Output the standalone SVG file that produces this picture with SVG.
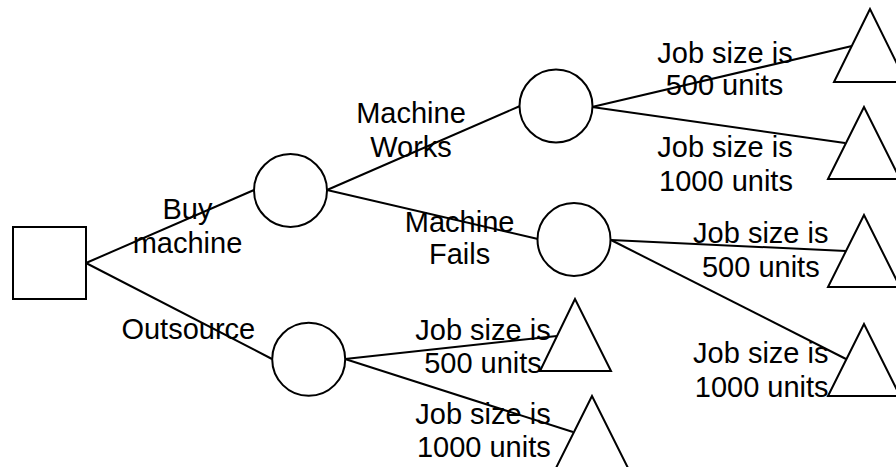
<svg xmlns="http://www.w3.org/2000/svg" width="896" height="467" viewBox="0 0 896 467">
<style>
.s{fill:#fff;stroke:#000;stroke-width:2}
.c line{stroke:#000;stroke-width:2}
text{font-family:"Liberation Sans",Arial,sans-serif;font-size:29px;fill:#000;text-anchor:middle}
</style>
<rect width="896" height="467" fill="#fff"/>
<g id="connectors" class="c">
<line x1="86" y1="263" x2="254" y2="190"/>
<line x1="86" y1="263" x2="272" y2="359"/>
<line x1="327" y1="190" x2="520" y2="106"/>
<line x1="327" y1="190" x2="538" y2="239"/>
<line x1="592" y1="107" x2="852" y2="46"/>
<line x1="592" y1="107" x2="845" y2="143"/>
<line x1="611" y1="240" x2="846" y2="251"/>
<line x1="611" y1="240" x2="846" y2="359"/>
<line x1="345" y1="359" x2="557" y2="336"/>
<line x1="345" y1="359" x2="573" y2="432"/>
</g>
<g id="decision"><rect class="s" x="13" y="227" width="73" height="72"/></g>
<g id="chance-buy"><circle class="s" cx="290.5" cy="190.5" r="36.5"/></g>
<g id="chance-works"><circle class="s" cx="556" cy="106" r="36.5"/></g>
<g id="chance-fails"><circle class="s" cx="574" cy="239.5" r="36.5"/></g>
<g id="chance-outsource"><circle class="s" cx="308.7" cy="359.3" r="36.5"/></g>
<g id="end-works-500"><polygon class="s" points="870,9 834,82 906,82"/></g>
<g id="end-works-1000"><polygon class="s" points="864,107 828,179 900,179"/></g>
<g id="end-fails-500"><polygon class="s" points="864,215 828,287 900,287"/></g>
<g id="end-fails-1000"><polygon class="s" points="864,324 828,396 900,396"/></g>
<g id="end-out-500"><polygon class="s" points="575,299 540,371 611,371"/></g>
<g id="end-out-1000"><polygon class="s" points="592,396 556,468 628,468"/></g>
<g id="labels">
<text x="187.5" y="219">Buy</text>
<text x="187.5" y="253">machine</text>
<text x="188.3" y="339">Outsource</text>
<text x="411" y="123">Machine</text>
<text x="411" y="157">Works</text>
<text x="459.6" y="232">Machine</text>
<text x="459.6" y="264">Fails</text>
<text x="725" y="63">Job size is</text>
<text x="724.5" y="95">500 units</text>
<text x="725" y="157">Job size is</text>
<text x="726" y="191">1000 units</text>
<text x="760.8" y="243">Job size is</text>
<text x="760.8" y="277">500 units</text>
<text x="760.8" y="363">Job size is</text>
<text x="761.7" y="397">1000 units</text>
<text x="483" y="340">Job size is</text>
<text x="483" y="373">500 units</text>
<text x="483" y="424">Job size is</text>
<text x="483.8" y="457">1000 units</text>
</g>
</svg>
